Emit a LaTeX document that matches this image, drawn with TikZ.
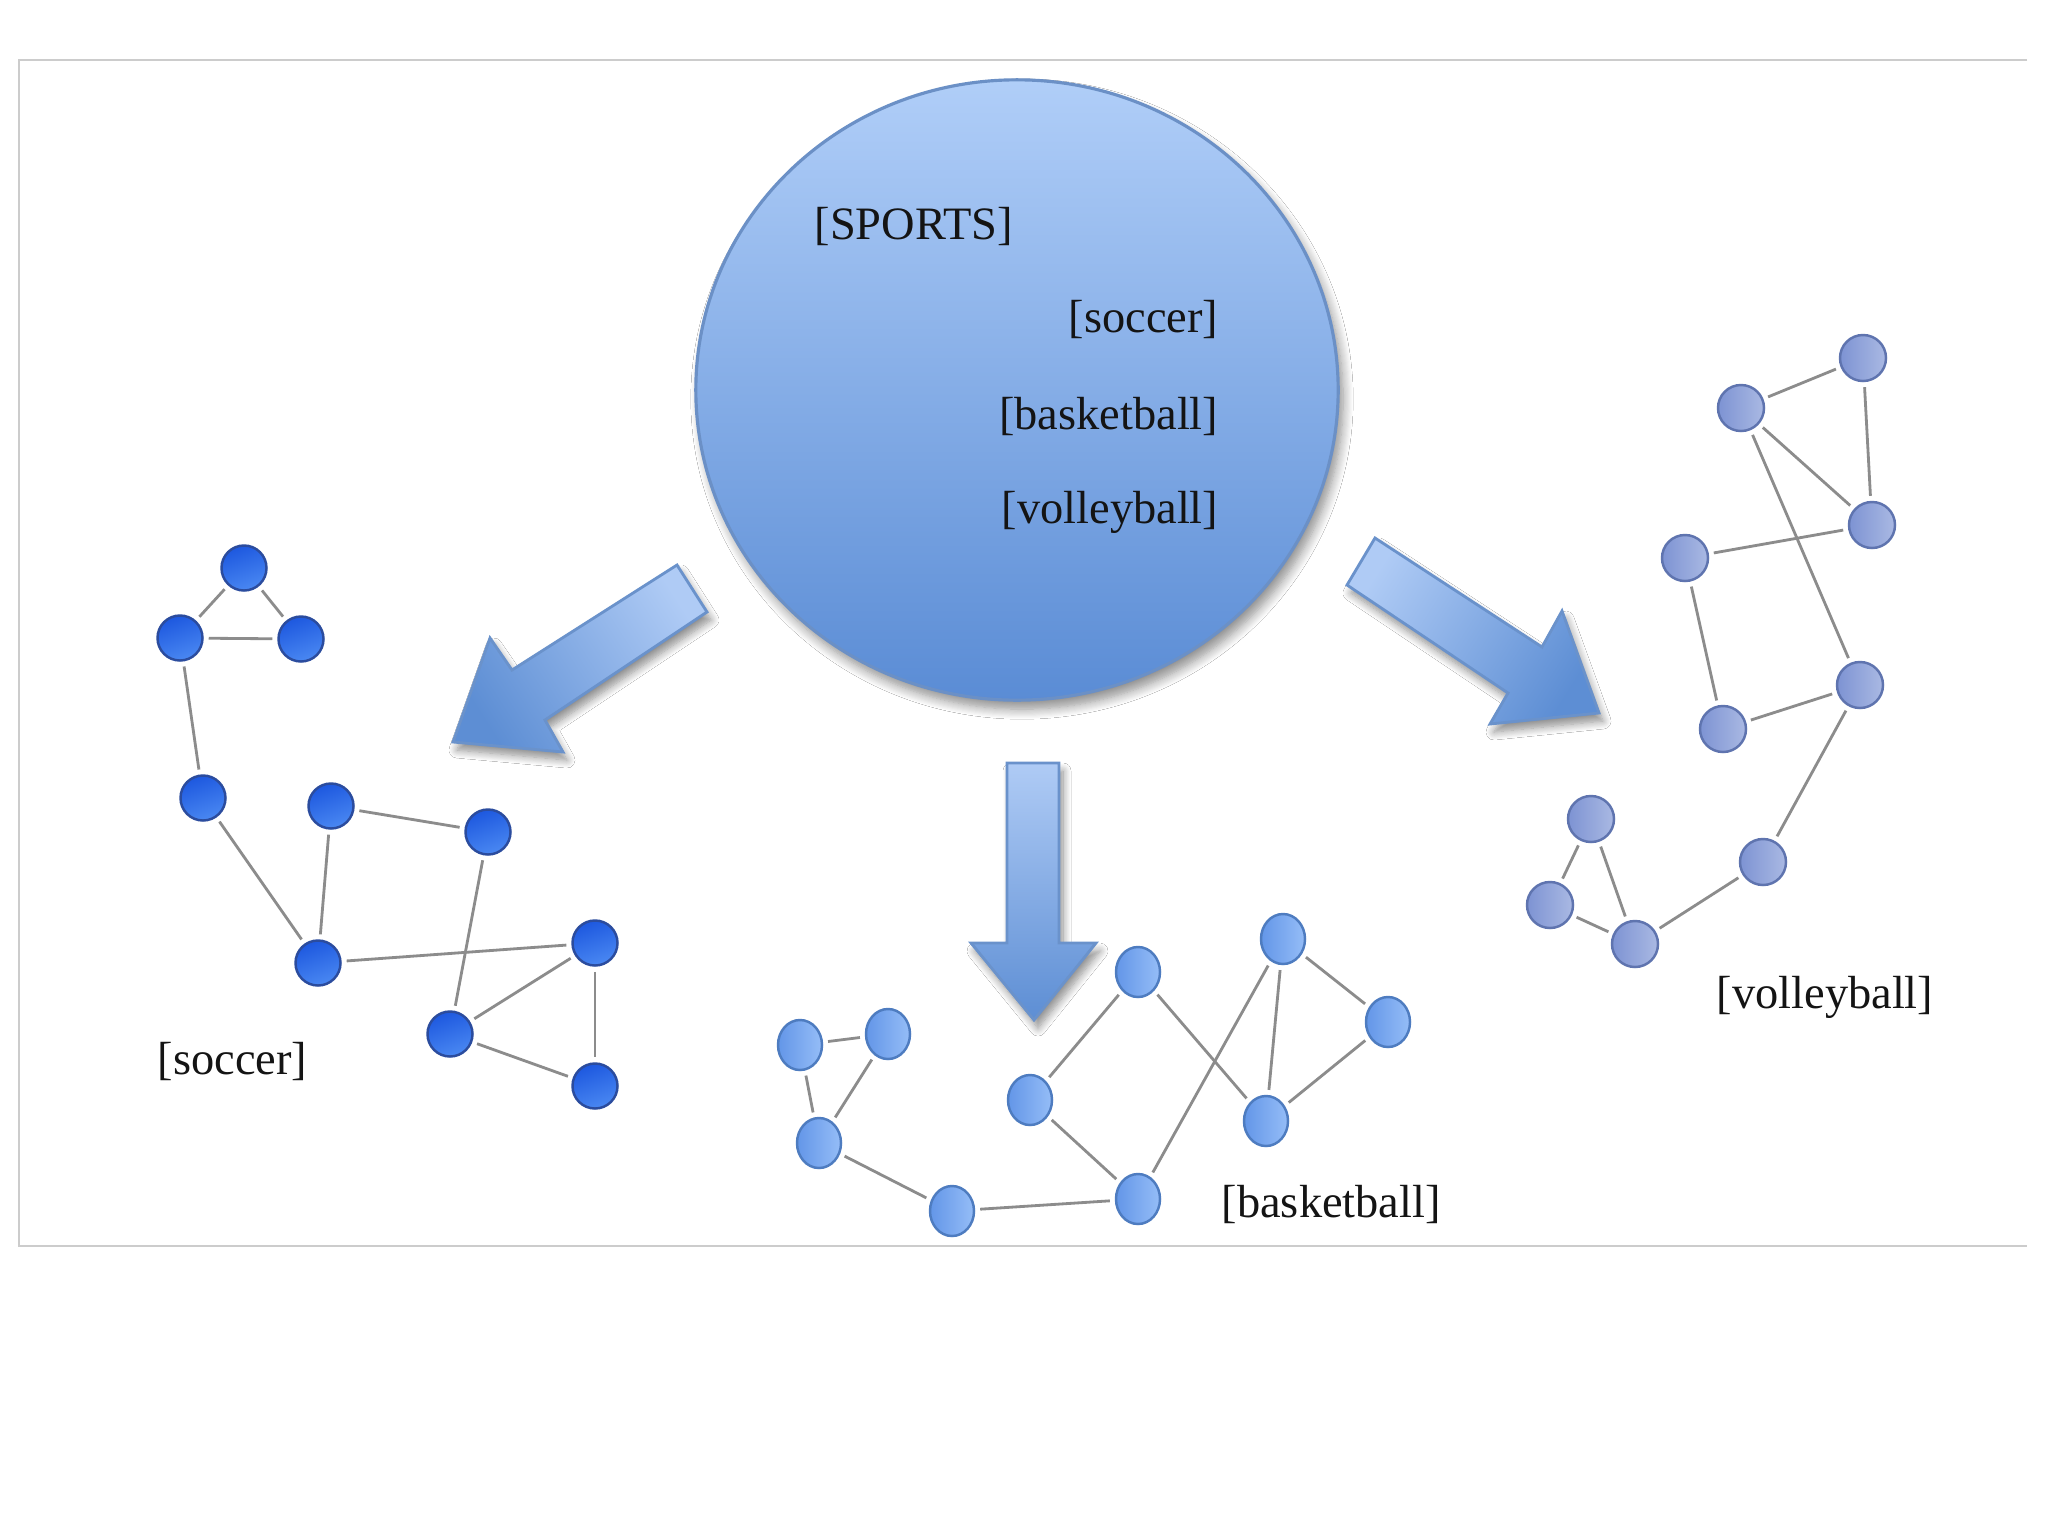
\documentclass[tikz,border=0pt]{standalone}
\usepackage{fontspec}
\setmainfont{Liberation Serif}
\usetikzlibrary{shapes.geometric,shadows.blur}
\definecolor{socT}{HTML}{1D58DF}
\definecolor{socBt}{HTML}{4A88F2}
\definecolor{socB}{HTML}{2B4C9E}
\definecolor{basL}{HTML}{6396E8}
\definecolor{basR}{HTML}{95BDF7}
\definecolor{basB}{HTML}{4E7CC0}
\definecolor{volL}{HTML}{7D93D3}
\definecolor{volR}{HTML}{AAB9E3}
\definecolor{volB}{HTML}{5F74AF}
\definecolor{edgegray}{HTML}{8C8C8C}
\definecolor{arrT}{HTML}{AFCBF5}
\definecolor{arrBt}{HTML}{5D8ED4}
\definecolor{arrB}{HTML}{6A92CB}
\definecolor{circT}{HTML}{B0CEF8}
\definecolor{circBt}{HTML}{5A8CD5}
\definecolor{circD}{HTML}{6B90C6}
\definecolor{txt}{HTML}{141414}
\definecolor{framecol}{HTML}{CCCCCC}
\tikzset{
  snode/.style={circle, draw=socB, line width=0.7pt, top color=socT, bottom color=socBt, shading angle=20, minimum size=0.45cm, inner sep=0pt},
  bnode/.style={ellipse, draw=basB, line width=0.7pt, left color=basL, right color=basR, minimum width=0.44cm, minimum height=0.5cm, inner sep=0pt},
  vnode/.style={circle, draw=volB, line width=0.7pt, left color=volL, right color=volR, minimum size=0.46cm, inner sep=0pt},
  edge/.style={draw=edgegray, line width=0.8pt, shorten >=0.05cm, shorten <=0.05cm},
  lbl/.style={inner sep=0pt, font=\fontsize{13.2}{15}\selectfont, text=txt},
  blockarrow/.style={draw=arrB, line width=0.8pt, top color=arrT, bottom color=arrBt,
    blur shadow={shadow xshift=0.04cm, shadow yshift=-0.08cm, shadow blur steps=10, shadow blur radius=0.08cm, shadow opacity=45}},
}
\begin{document}
\begin{tikzpicture}[x=0.01cm,y=-0.01cm]
\useasboundingbox[fill=white] (0,0) rectangle (2048,1536);
% frame
\draw[framecol, line width=0.6pt] (2027,60) -- (19,60) -- (19,1246) -- (2027,1246);

% central circle
\node[ellipse, draw=circD, line width=0.9pt, top color=circT, bottom color=circBt,
  minimum width=6.42cm, minimum height=6.2cm, inner sep=0pt,
  blur shadow={shadow xshift=0.05cm, shadow yshift=-0.09cm, shadow blur steps=10, shadow blur radius=0.1cm, shadow opacity=45}] (sports) at (1017,390) {};
\node[lbl, anchor=base west] (tS) at (814,239) {[SPORTS]};
\node[lbl, anchor=base east] (tso) at (1219,332) {[soccer]};
\node[lbl, anchor=base east] (tba) at (1219,429) {[basketball]};
\node[lbl, anchor=base east] (tvo) at (1219,523) {[volleyball]};

% block arrows
\path[blockarrow, shading angle=-57.3] (677,565) -- (707,612) -- (545,720) -- (563,752) -- (453,742) -- (490,638) -- (512,670) -- cycle;
\path[blockarrow, shading angle=0] (1007,763) -- (1059,763) -- (1059,943) -- (1096,943) -- (1034,1020) -- (971,943) -- (1007,943) -- cycle;
\path[blockarrow, shading angle=57.6] (1375,538) -- (1347,585) -- (1508,693) -- (1490,724) -- (1599,713) -- (1562,611) -- (1542,647) -- cycle;

% soccer graph
\node[snode] (sA) at (244,568) {};
\node[snode] (sB) at (180,638) {};
\node[snode] (sC) at (301,639) {};
\node[snode] (sD) at (203,798) {};
\node[snode] (sE) at (331,806) {};
\node[snode] (sF) at (488,832) {};
\node[snode] (sG) at (318,963) {};
\node[snode] (sH) at (595,943) {};
\node[snode] (sI) at (450,1034) {};
\node[snode] (sJ) at (595,1086) {};
\foreach \a/\b in {sA/sB,sA/sC,sB/sC,sB/sD,sD/sG,sE/sG,sE/sF,sF/sI,sG/sH,sH/sI,sH/sJ,sI/sJ}
  \draw[edge] (\a) -- (\b);
\node[lbl, anchor=base west] (lso) at (157,1074) {[soccer]};

% basketball graph
\node[bnode] (b1) at (800,1045) {};
\node[bnode] (b2) at (888,1034) {};
\node[bnode] (b3) at (819,1143) {};
\node[bnode] (b4) at (952,1211) {};
\node[bnode] (b5) at (1138,1199) {};
\node[bnode] (b6) at (1030,1100) {};
\node[bnode] (b7) at (1138,972) {};
\node[bnode] (b8) at (1283,939) {};
\node[bnode] (b9) at (1388,1022) {};
\node[bnode] (b10) at (1266,1121) {};
\foreach \a/\b in {b1/b2,b1/b3,b2/b3,b3/b4,b4/b5,b5/b6,b6/b7,b7/b10,b5/b8,b8/b10,b8/b9,b9/b10}
  \draw[edge] (\a) -- (\b);
\node[lbl, anchor=base west] (lba) at (1221,1217) {[basketball]};

% volleyball graph
\node[vnode] (v1) at (1863,358) {};
\node[vnode] (v2) at (1741,408) {};
\node[vnode] (v3) at (1872,525) {};
\node[vnode] (v4) at (1685,558) {};
\node[vnode] (v5) at (1860,685) {};
\node[vnode] (v6) at (1723,729) {};
\node[vnode] (v7) at (1763,862) {};
\node[vnode] (v8) at (1591,819) {};
\node[vnode] (v9) at (1550,905) {};
\node[vnode] (v10) at (1635,944) {};
\foreach \a/\b in {v1/v2,v1/v3,v2/v3,v2/v5,v4/v3,v4/v6,v6/v5,v5/v7,v7/v10,v10/v9,v10/v8,v8/v9}
  \draw[edge] (\a) -- (\b);
\node[lbl, anchor=base west] (lvo) at (1716,1008) {[volleyball]};
\end{tikzpicture}
\end{document}
